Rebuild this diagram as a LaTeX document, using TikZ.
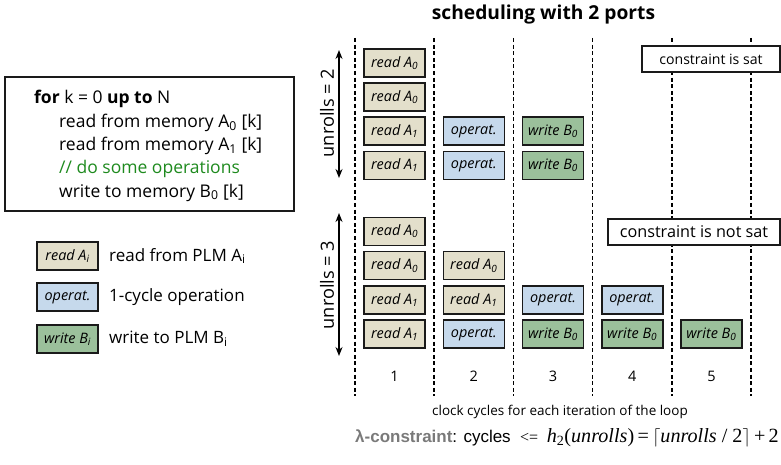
\documentclass[tikz,border=0pt]{standalone}
\usepackage{fontspec}
\setmainfont{Open Sans}
\newfontfamily\lsans{Liberation Sans}
\newfontfamily\lserif{Liberation Serif}
\usetikzlibrary{arrows.meta}
\definecolor{rdfill}{HTML}{E3DFCB}
\definecolor{opfill}{HTML}{C6D9EC}
\definecolor{wrfill}{HTML}{9BC09B}
\definecolor{boxline}{HTML}{1A1A1A}
\definecolor{cmtgreen}{HTML}{1E8A1E}
\definecolor{lamgray}{HTML}{7A7A7A}
\newcommand{\fs}[1]{\fontsize{#1}{#1}\selectfont}
\tikzset{
  opbase/.style={draw=boxline, line width=1.6pt, minimum width=61, minimum height=28, inner sep=0pt, font=\itshape\fs{14.4}},
  rdbox/.style={opbase, fill=rdfill},
  opbox/.style={opbase, fill=opfill},
  wrbox/.style={opbase, fill=wrfill},
  gridline/.style={line width=1.6pt, dash pattern=on 4pt off 2.6pt, black},
  unrollarrow/.style={line width=1.4pt, {Stealth[length=9pt,width=7pt]}-{Stealth[length=9pt,width=7pt]}},
  constbox/.style={draw=boxline, fill=white, line width=1.4pt, inner sep=0pt},
  codeline/.style={anchor=base west, inner sep=0pt, font=\fs{17.5}},
  legtext/.style={anchor=west, inner sep=0pt, font=\fs{17}},
}
\begin{document}
\begin{tikzpicture}[x=1pt,y=-1pt]
\useasboundingbox (0,0) rectangle (781,465);
% title
\node[font=\bfseries\fs{19.2}] (title) at (543.5,15) {scheduling with 2 ports};
% code box
\node[draw=boxline, line width=1.4pt, minimum width=289, minimum height=134, inner sep=0pt] (code) at (149.5,144) {};
\node[codeline] (c1) at (34,104) {\textbf{for} k = 0 \textbf{up to} N};
\node[codeline] (c2) at (59,128) {read from memory A\textsubscript{0} [k]};
\node[codeline] (c3) at (59,151) {read from memory A\textsubscript{1} [k]};
\node[codeline, text=cmtgreen] (c4) at (59,174) {// do some operations};
\node[codeline] (c5) at (59,197) {write to memory B\textsubscript{0} [k]};
% legend
\node[rdbox] (lr) at (67.5,256) {read A\textsubscript{i}};
\node[opbox] (lo) at (67.5,297) {operat.};
\node[wrbox] (lw) at (67.5,339) {write B\textsubscript{i}};
\node[legtext] (lrt) at (109,256) {read from PLM A\textsubscript{i}};
\node[legtext] (lot) at (109,297) {1-cycle operation};
\node[legtext] (lwt) at (109,339) {write to PLM B\textsubscript{i}};
% grid lines
\foreach \k in {0,...,5} {
  \coordinate (gt\k) at (355+79.2*\k,38);
  \coordinate (gb\k) at (355+79.2*\k,396);
  \draw[gridline] (gt\k) -- (gb\k);
}
% column numbers
\foreach \i in {1,...,5} {
  \node[font=\fs{14.5}] (num\i) at (394.6+79.2*\i-79.2,376) {\i};
}
% unroll arrows
\coordinate (a2t) at (339,50); \coordinate (a2b) at (339,178);
\draw[unrollarrow] (a2t) -- (a2b);
\node[rotate=90, font=\fs{18.2}] (u2) at (327,113) {unrolls = 2};
\coordinate (a3t) at (339,213); \coordinate (a3b) at (339,356);
\draw[unrollarrow] (a3t) -- (a3b);
\node[rotate=90, font=\fs{18.2}] (u3) at (327,285) {unrolls = 3};
% top group
\node[rdbox] (t11) at (394.6,62.8) {read A\textsubscript{0}};
\node[rdbox] (t21) at (394.6,97) {read A\textsubscript{0}};
\node[rdbox] (t31) at (394.6,131.2) {read A\textsubscript{1}};
\node[rdbox] (t41) at (394.6,165.4) {read A\textsubscript{1}};
\node[opbox] (t32) at (473.8,131.2) {operat.};
\node[opbox] (t42) at (473.8,165.4) {operat.};
\node[wrbox] (t33) at (553,131.2) {write B\textsubscript{0}};
\node[wrbox] (t43) at (553,165.4) {write B\textsubscript{0}};
% bottom group
\node[rdbox] (b11) at (394.6,231.3) {read A\textsubscript{0}};
\node[rdbox] (b21) at (394.6,265.5) {read A\textsubscript{0}};
\node[rdbox] (b22) at (473.8,265.5) {read A\textsubscript{0}};
\node[rdbox] (b31) at (394.6,299.7) {read A\textsubscript{1}};
\node[rdbox] (b32) at (473.8,299.7) {read A\textsubscript{1}};
\node[opbox] (b33) at (553,299.7) {operat.};
\node[opbox] (b34) at (632.2,299.7) {operat.};
\node[rdbox] (b41) at (394.6,334) {read A\textsubscript{1}};
\node[opbox] (b42) at (473.8,334) {operat.};
\node[wrbox] (b43) at (553,334) {write B\textsubscript{0}};
\node[wrbox] (b44) at (632.2,334) {write B\textsubscript{0}};
\node[wrbox] (b45) at (711.4,334) {write B\textsubscript{0}};
% constraint boxes
\node[constbox, minimum width=138, minimum height=26, font=\fs{14.1}] (sat) at (711,59) {constraint is sat};
\node[constbox, minimum width=172, minimum height=26, font=\fs{16.2}] (nsat) at (694,232) {constraint is not sat};
% bottom texts
\node[font=\fs{13.5}] (xlabel) at (560,412) {clock cycles for each iteration of the loop};
\node[anchor=base west, inner sep=0pt] (lam) at (355,442) {{\lsans\bfseries\fs{17}\color{lamgray}λ-constraint}{\lsans\fs{17}: cycles}};
\node[anchor=base west, inner sep=0pt, font=\lserif\fs{16}, xshift=9pt] (leq) at (lam.base east) {<=};
\node[anchor=base east, inner sep=0pt] (hform) at (779,442) {\resizebox{232pt}{!}{\lserif\fs{19}\itshape h\textsubscript{\upshape 2}\upshape(\itshape unrolls\upshape)\,=\,$\big\lceil$\itshape unrolls\upshape\ / 2$\big\rceil$\,+\,2}};
\end{tikzpicture}
\end{document}
